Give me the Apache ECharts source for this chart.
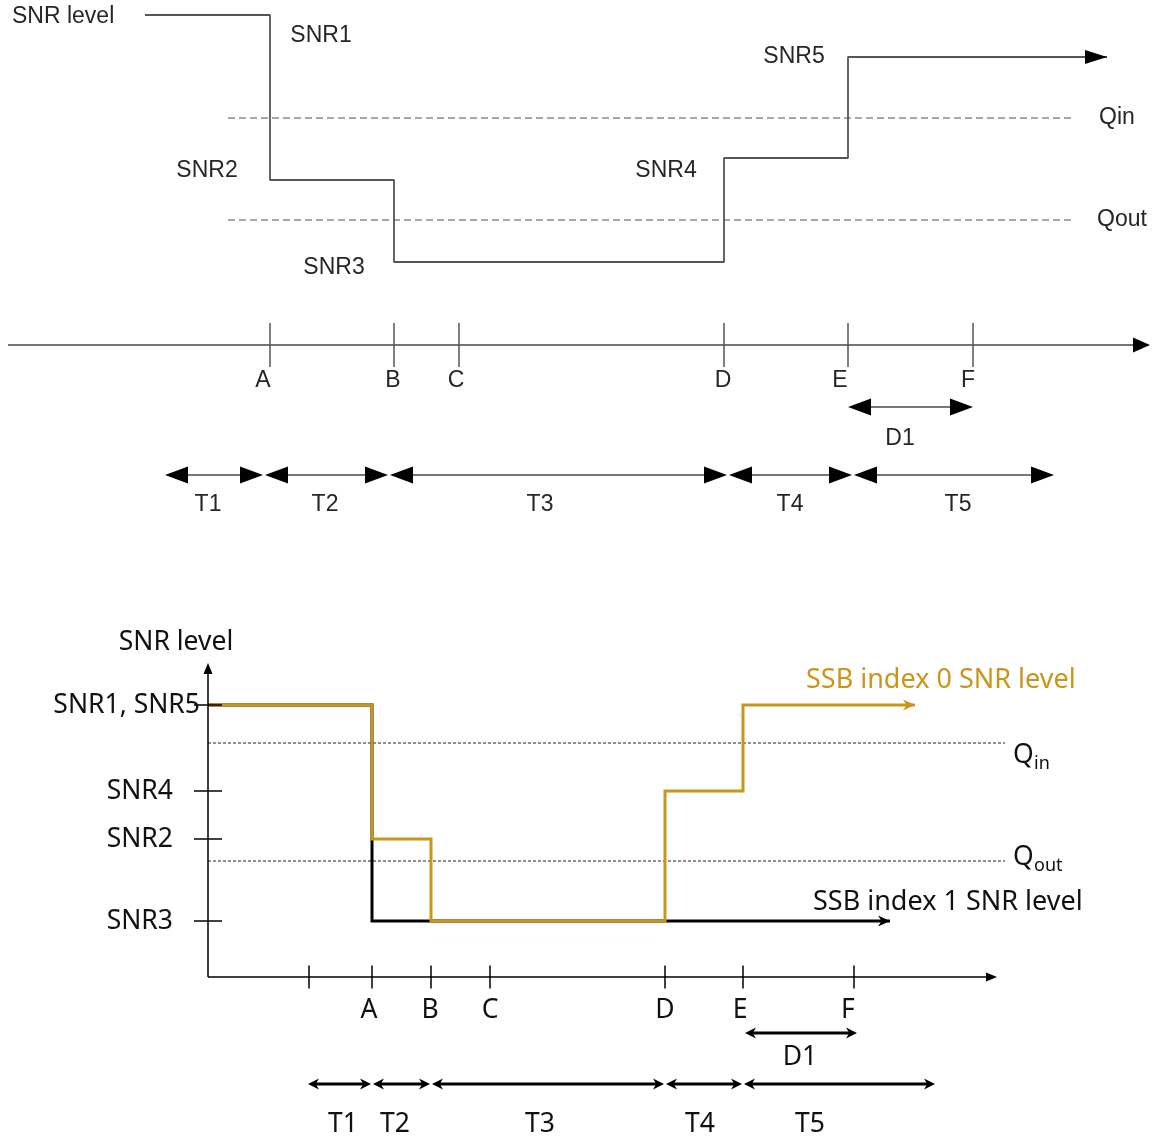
<!DOCTYPE html>
<html><head><meta charset="utf-8">
<script src="https://cdn.jsdelivr.net/npm/echarts@6/dist/echarts.min.js"></script>
<style>html,body{margin:0;padding:0;background:#fff}#c{width:1155px;height:1138px}</style>
</head><body><div id="c"></div>
<script>
// ================= DATA (diagram units) =================
// --- Top diagram ---
const topTimeLabels = ['A', 'B', 'C', 'D', 'E', 'F'];
const topTimes = [27.0, 39.4, 45.9, 72.4, 84.8, 97.3];
const topSnrNames = ['SNR1', 'SNR2', 'SNR3', 'SNR4', 'SNR5'];
const topSnrLevels = [33.0, 16.5, 8.3, 18.7, 28.8];
const topCurveBreaks = [14.5, 27.0, 39.4, 72.4, 84.8, 110.7];
const topThresholdNames = ['Qin', 'Qout'];
const topThresholds = [22.7, 12.5];
const topPeriodNames = ['T1', 'T2', 'T3', 'T4', 'T5'];
const topPeriodBounds = [16.5, 26.4, 38.9, 72.8, 85.3, 105.4];
const topD1Span = [84.8, 97.3];

// --- Bottom diagram ---
const botTickTimes = [30.9, 37.2, 43.1, 49.0, 66.5, 74.3, 85.4];
const botTickLabels = ['', 'A', 'B', 'C', 'D', 'E', 'F'];
const botSnrNames = ['SNR1, SNR5', 'SNR4', 'SNR2', 'SNR3'];
const botSnrLevels = [27.2, 18.6, 13.8, 5.6];
const ssb0Breaks = [20.8, 37.2, 43.1, 66.5, 74.3, 91.5];
const ssb0Levels = [27.2, 13.8, 5.6, 18.6, 27.2];
const ssb1Breaks = [20.8, 37.2, 89.0];
const ssb1Levels = [27.2, 5.6];
const botThresholdNames = [['Q', 'in'], ['Q', 'out']];
const botThresholds = [23.4, 11.6];
const botPeriodNames = ['T1', 'T2', 'T3', 'T4', 'T5'];
const botPeriodBounds = [30.8, 37.2, 43.1, 66.5, 74.3, 93.5];
const botD1Span = [74.5, 85.7];
const ssb0Name = 'SSB index 0 SNR level';
const ssb1Name = 'SSB index 1 SNR level';

// ================= LAYOUT / STYLE =================
const GOLD = '#C9961A';
const TOPFONT = '23px "Liberation Sans", Arial, sans-serif';
const BOTFONT = '26.5px "Noto Sans", sans-serif';
const BOTFONT_L = '27px "Noto Sans", sans-serif';
const BOTSUB = '18px "Noto Sans", sans-serif';
const LT = {
  x: [0, 115.5], y: [-21.5, 34.5], axisSpan: [0.8, 115.0], threshSpan: [22.8, 107.5],
  tickHalf: 2.2, tickLabelY: -3.6, tickLabelDx: [-0.7, -0.1, -0.3, -0.1, -0.8, -0.5],
  d1Y: -6.2, d1Label: [90.0, -9.4],
  periodY: -13.0, periodLabelY: -16.0, periodLabelX: [20.8, 32.5, 54.0, 79.0, 95.8],
  title: [1.2, 32.8], snrLabelPos: [[32.1, 30.9], [20.7, 17.4], [33.4, 7.7], [66.6, 17.4], [79.4, 28.8]],
  threshLabelX: [109.9, 109.7], gap: 0.1
};
const LB = {
  x: [0, 115.5], y: [-16.1, 41.7], origin: [20.8, 0], xEnd: 99.7, yEnd: 31.4,
  threshSpan: [20.8, 100.5], xTickHalf: 1.15, yTickHalf: 1.4, tickLabelY: -3.3,
  tickLabelDx: [0, -0.3, -0.1, 0.0, 0.0, -0.3, -0.6],
  d1Y: -5.6, d1Label: [80.0, -8.0], periodY: -10.7, periodLabelY: -14.7,
  periodLabelX: [34.3, 39.5, 54.0, 70.0, 81.0], title: [17.6, 33.5],
  snrLabelRight: [20.0, 17.3, 17.3, 17.3], qX: 101.3, subX: 103.4, qDy: [-1.2, 0.4], subDy: [-2.1, -0.5],
  ssb0Label: [80.6, 29.7], ssb1Label: [81.3, 7.5], gap: 0.1
};
const ARROW_STYLES = {
  topT:     { color: '#777', lw: 2,   shape: 'tri',   hl: 23, hw: 17, head: '#000' },
  topAxis:  { color: '#444', lw: 1.5, shape: 'tri',   hl: 17, hw: 15, head: '#000' },
  topCurve: { color: '#000', lw: 0,   shape: 'tri',   hl: 22, hw: 14, head: '#000' },
  topTick:  { color: '#555', lw: 1.5 },
  botAxis:  { color: '#000', lw: 1.5, shape: 'tri',   hl: 11, hw: 9,  head: '#000' },
  botTick:  { color: '#000', lw: 1.5 },
  botT:     { color: '#000', lw: 3,   shape: 'barb',  hl: 11, hw: 11, head: '#000' },
  ssb1Head: { color: '#000', lw: 0,   shape: 'barb',  hl: 12, hw: 11, head: '#000' },
  ssb0Head: { color: GOLD,   lw: 0,   shape: 'barb',  hl: 12, hw: 11, head: GOLD }
};

// ================= BUILDERS =================
function stepPoints(breaks, levels) {
  const pts = [];
  for (let i = 0; i < levels.length; i++) {
    pts.push([breaks[i], levels[i]]);
    pts.push([breaks[i + 1], levels[i]]);
  }
  return pts;
}
function periodArrows(bounds, y, gap, style) {
  const out = [];
  for (let i = 0; i < bounds.length - 1; i++) {
    const a = bounds[i] + (i > 0 ? gap : 0);
    const b = bounds[i + 1] - (i < bounds.length - 2 ? gap : 0);
    out.push({ p: [a, y, b, y], start: true, end: true, style });
  }
  return out;
}
function arrowSeries(grid, specs, z) {
  return {
    type: 'custom', xAxisIndex: grid, yAxisIndex: grid, silent: true, z: z || 4, clip: false,
    animation: false,
    data: specs.map(s => s.p),
    renderItem: function (params, api) {
      const s = specs[params.dataIndex];
      const st = ARROW_STYLES[s.style];
      const a = api.coord([api.value(0), api.value(1)]);
      const b = api.coord([api.value(2), api.value(3)]);
      const dx = b[0] - a[0], dy = b[1] - a[1];
      const len = Math.hypot(dx, dy) || 1;
      const ux = dx / len, uy = dy / len;
      const children = [];
      const inset = st.shape === 'tri' ? st.hl * 0.8 : st.hl * 0.55;
      const a2 = s.start ? [a[0] + ux * inset, a[1] + uy * inset] : a;
      const b2 = s.end ? [b[0] - ux * inset, b[1] - uy * inset] : b;
      if (st.lw > 0) {
        children.push({ type: 'line', shape: { x1: a2[0], y1: a2[1], x2: b2[0], y2: b2[1] },
          style: { stroke: st.color, lineWidth: st.lw } });
      }
      function head(tip, dxx, dyy) {
        const bx = tip[0] - dxx * st.hl, by = tip[1] - dyy * st.hl;
        const w = st.hw / 2, px = -dyy, py = dxx;
        let pts;
        if (st.shape === 'tri') {
          pts = [tip, [bx + px * w, by + py * w], [bx - px * w, by - py * w]];
        } else {
          const nx = tip[0] - dxx * st.hl * 0.7, ny = tip[1] - dyy * st.hl * 0.7;
          pts = [tip, [bx + px * w, by + py * w], [nx, ny], [bx - px * w, by - py * w]];
        }
        children.push({ type: 'polygon', shape: { points: pts }, style: { fill: st.head } });
      }
      if (s.end) head(b, ux, uy);
      if (s.start) head(a, -ux, -uy);
      return { type: 'group', children };
    }
  };
}
function textSeries(grid, items) {
  return {
    type: 'custom', xAxisIndex: grid, yAxisIndex: grid, silent: true, z: 6, clip: false,
    animation: false,
    data: items.map(t => [t.x, t.y]),
    renderItem: function (params, api) {
      const t = items[params.dataIndex];
      const p = api.coord([api.value(0), api.value(1)]);
      return { type: 'text', x: p[0], y: p[1],
        style: { text: t.text, font: t.font, fill: t.color, align: t.align || 'center', verticalAlign: 'middle' } };
    }
  };
}
function dashedSeries(grid, levels, span, color, lw, dash) {
  return levels.map(v => ({
    type: 'line', xAxisIndex: grid, yAxisIndex: grid, silent: true, symbol: 'none', animation: false, z: 2,
    data: [[span[0], v], [span[1], v]],
    lineStyle: { color, width: lw, type: dash }
  }));
}

// ---------- Top diagram elements ----------
const TXT = '#262626';
const topArrows = [];
topArrows.push({ p: [LT.axisSpan[0], 0, LT.axisSpan[1], 0], start: false, end: true, style: 'topAxis' });
topTimes.forEach(t => topArrows.push({ p: [t, -LT.tickHalf, t, LT.tickHalf], style: 'topTick' }));
topArrows.push({ p: [topD1Span[0], LT.d1Y, topD1Span[1], LT.d1Y], start: true, end: true, style: 'topT' });
periodArrows(topPeriodBounds, LT.periodY, LT.gap, 'topT').forEach(a => topArrows.push(a));
const nTop = topCurveBreaks.length;
topArrows.push({ p: [topCurveBreaks[nTop - 2], topSnrLevels[topSnrLevels.length - 1],
  topCurveBreaks[nTop - 1], topSnrLevels[topSnrLevels.length - 1]], end: true, style: 'topCurve' });

const topTexts = [];
topTexts.push({ text: 'SNR level', x: LT.title[0], y: LT.title[1], font: TOPFONT, color: TXT, align: 'left' });
topSnrNames.forEach((n, i) => topTexts.push({ text: n, x: LT.snrLabelPos[i][0], y: LT.snrLabelPos[i][1], font: TOPFONT, color: TXT }));
topThresholdNames.forEach((n, i) => topTexts.push({ text: n, x: LT.threshLabelX[i], y: topThresholds[i], font: TOPFONT, color: TXT, align: 'left' }));
topTimeLabels.forEach((n, i) => topTexts.push({ text: n, x: topTimes[i] + LT.tickLabelDx[i], y: LT.tickLabelY, font: TOPFONT, color: TXT }));
topTexts.push({ text: 'D1', x: LT.d1Label[0], y: LT.d1Label[1], font: TOPFONT, color: TXT });
topPeriodNames.forEach((n, i) => topTexts.push({ text: n, x: LT.periodLabelX[i], y: LT.periodLabelY, font: TOPFONT, color: TXT }));

// ---------- Bottom diagram elements ----------
const botArrows = [];
botArrows.push({ p: [LB.origin[0], LB.origin[1], LB.xEnd, LB.origin[1]], end: true, style: 'botAxis' });
botArrows.push({ p: [LB.origin[0], LB.origin[1], LB.origin[0], LB.yEnd], end: true, style: 'botAxis' });
botTickTimes.forEach(t => botArrows.push({ p: [t, -LB.xTickHalf, t, LB.xTickHalf], style: 'botTick' }));
botSnrLevels.forEach(v => botArrows.push({ p: [LB.origin[0] - LB.yTickHalf, v, LB.origin[0] + LB.yTickHalf, v], style: 'botTick' }));
botArrows.push({ p: [botD1Span[0], LB.d1Y, botD1Span[1], LB.d1Y], start: true, end: true, style: 'botT' });
periodArrows(botPeriodBounds, LB.periodY, LB.gap, 'botT').forEach(a => botArrows.push(a));
const curveHeads = [];
curveHeads.push({ p: [ssb1Breaks[ssb1Breaks.length - 2], ssb1Levels[ssb1Levels.length - 1],
  ssb1Breaks[ssb1Breaks.length - 1], ssb1Levels[ssb1Levels.length - 1]], end: true, style: 'ssb1Head' });
curveHeads.push({ p: [ssb0Breaks[ssb0Breaks.length - 2], ssb0Levels[ssb0Levels.length - 1],
  ssb0Breaks[ssb0Breaks.length - 1], ssb0Levels[ssb0Levels.length - 1]], end: true, style: 'ssb0Head' });

const botTexts = [];
botTexts.push({ text: 'SNR level', x: LB.title[0], y: LB.title[1], font: BOTFONT, color: '#111' });
botSnrNames.forEach((n, i) => botTexts.push({ text: n, x: LB.snrLabelRight[i], y: botSnrLevels[i], font: BOTFONT, color: '#111', align: 'right' }));
botTickLabels.forEach((n, i) => { if (n) botTexts.push({ text: n, x: botTickTimes[i] + LB.tickLabelDx[i], y: LB.tickLabelY, font: BOTFONT, color: '#111' }); });
botThresholdNames.forEach((n, i) => {
  botTexts.push({ text: n[0], x: LB.qX, y: botThresholds[i] + LB.qDy[i], font: BOTFONT, color: '#111', align: 'left' });
  botTexts.push({ text: n[1], x: LB.subX, y: botThresholds[i] + LB.subDy[i], font: BOTSUB, color: '#111', align: 'left' });
});
botTexts.push({ text: ssb0Name, x: LB.ssb0Label[0], y: LB.ssb0Label[1], font: BOTFONT_L, color: GOLD, align: 'left' });
botTexts.push({ text: ssb1Name, x: LB.ssb1Label[0], y: LB.ssb1Label[1], font: BOTFONT_L, color: '#111', align: 'left' });
botTexts.push({ text: 'D1', x: LB.d1Label[0], y: LB.d1Label[1], font: BOTFONT, color: '#111' });
botPeriodNames.forEach((n, i) => botTexts.push({ text: n, x: LB.periodLabelX[i], y: LB.periodLabelY, font: BOTFONT, color: '#111' }));

// ================= CHART =================
const chart = echarts.init(document.getElementById('c'), null, { renderer: 'canvas' });
const series = [];
// top
dashedSeries(0, topThresholds, LT.threshSpan, '#8a8a8a', 1.5, [7, 4]).forEach(s => series.push(s));
series.push({ type: 'line', xAxisIndex: 0, yAxisIndex: 0, silent: true, symbol: 'none', animation: false, z: 3,
  data: stepPoints(topCurveBreaks, topSnrLevels), lineStyle: { color: '#555', width: 1.8 } });
series.push(arrowSeries(0, topArrows, 4));
series.push(textSeries(0, topTexts));
// bottom
dashedSeries(1, botThresholds, LB.threshSpan, '#222', 1, [3, 2]).forEach(s => series.push(s));
series.push({ type: 'line', xAxisIndex: 1, yAxisIndex: 1, silent: true, symbol: 'none', animation: false, z: 3,
  data: stepPoints(ssb1Breaks, ssb1Levels), lineStyle: { color: '#000', width: 3, cap: 'butt', join: 'miter' } });
series.push({ type: 'line', xAxisIndex: 1, yAxisIndex: 1, silent: true, symbol: 'none', animation: false, z: 3,
  data: stepPoints(ssb0Breaks, ssb0Levels), lineStyle: { color: GOLD, width: 3, cap: 'butt', join: 'miter' } });
series.push(arrowSeries(1, botArrows, 4));
series.push(arrowSeries(1, curveHeads, 5));
series.push(textSeries(1, botTexts));

chart.setOption({
  backgroundColor: '#ffffff',
  animation: false,
  grid: [
    { left: 0, top: 0, width: 1155, height: 560, show: false },
    { left: 0, top: 560, width: 1155, height: 578, show: false }
  ],
  xAxis: [
    { type: 'value', gridIndex: 0, min: LT.x[0], max: LT.x[1], show: false },
    { type: 'value', gridIndex: 1, min: LB.x[0], max: LB.x[1], show: false }
  ],
  yAxis: [
    { type: 'value', gridIndex: 0, min: LT.y[0], max: LT.y[1], show: false },
    { type: 'value', gridIndex: 1, min: LB.y[0], max: LB.y[1], show: false }
  ],
  series
});
</script></body></html>
